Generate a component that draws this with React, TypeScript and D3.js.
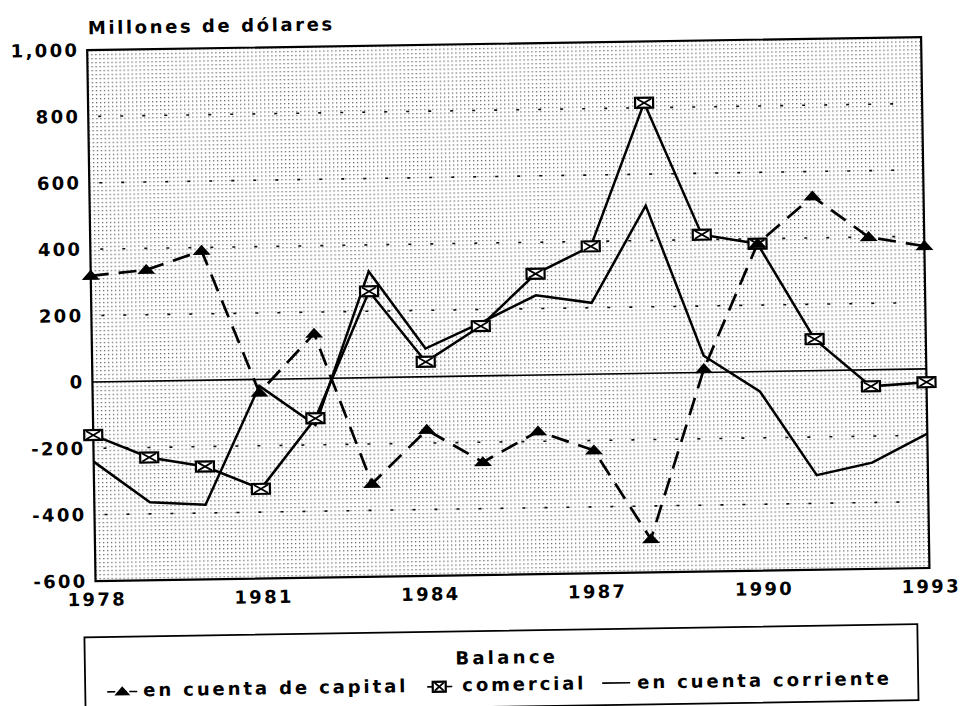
import * as d3 from 'd3';
import React, { useEffect, useRef } from 'react';

// Data (millones de dólares)
const years = [1978, 1979, 1980, 1981, 1982, 1983, 1984, 1985, 1986, 1987, 1988, 1989, 1990, 1991, 1992, 1993];
const capital = [320, 335, 390, -40, 135, -320, -160, -260, -170, -230, -500, 10, 385, 525, 400, 370];
const comercial = [-160, -230, -260, -330, -120, 260, 45, 150, 305, 385, 815, 415, 385, 95, -50, -40];
const corriente = [-240, -365, -375, -20, -140, 320, 85, 160, 240, 215, 505, 50, -60, -315, -280, -195];

const yTicks = [-600, -400, -200, 0, 200, 400, 600, 800, 1000];
const yTickLabels = ['-600', '-400', '-200', '0', '200', '400', '600', '800', '1,000'];
const xTicks = [1978, 1981, 1984, 1987, 1990, 1993];
const gridValues = [-400, -200, 200, 400, 600, 800];

const title = 'Millones de dólares';
const legendTitle = 'Balance';
const seriesNames = ['en cuenta de capital', 'comercial', 'en cuenta corriente'];

const W = 962;
const H = 706;
const FONT = '"DejaVu Sans", sans-serif';

const App = () => {
    const ref = useRef<SVGSVGElement>(null);

    useEffect(() => {
        drawChart();
        // eslint-disable-next-line react-hooks/exhaustive-deps
    }, []);

    function drawChart() {
        const root = d3.select(ref.current);
        root.selectAll('*').remove();

        const plot = { left: 92, right: 926, top: 44, bottom: 575 };

        const x = d3.scaleLinear().domain([1978, 1993]).range([plot.left, plot.right]);
        const y = d3.scaleLinear().domain([-600, 1000]).range([plot.bottom, plot.top]);

        // stipple background pattern
        const defs = root.append('defs');
        const pat = defs.append('pattern')
            .attr('id', 'stipple')
            .attr('width', 4)
            .attr('height', 4)
            .attr('patternUnits', 'userSpaceOnUse');
        pat.append('rect').attr('width', 1.3).attr('height', 1.3).attr('fill', '#666');

        // the scan is a little tilted
        const g = root.append('g').attr('transform', 'rotate(-0.9, 481, 353)');

        g.append('rect')
            .attr('x', plot.left).attr('y', plot.top)
            .attr('width', plot.right - plot.left).attr('height', plot.bottom - plot.top)
            .attr('fill', 'url(#stipple)');

        // dotted gridlines
        g.selectAll('.grid')
            .data(gridValues)
            .enter()
            .append('line')
            .attr('x1', plot.left + 10).attr('x2', plot.right - 10)
            .attr('y1', d => y(d)).attr('y2', d => y(d))
            .attr('stroke', '#111')
            .attr('stroke-width', 1.6)
            .attr('stroke-dasharray', '3,19');

        // zero line
        g.append('line')
            .attr('x1', plot.left).attr('x2', plot.right)
            .attr('y1', y(0)).attr('y2', y(0))
            .attr('stroke', '#000')
            .attr('stroke-width', 1.6);

        // frame
        g.append('rect')
            .attr('x', plot.left).attr('y', plot.top)
            .attr('width', plot.right - plot.left).attr('height', plot.bottom - plot.top)
            .attr('fill', 'none')
            .attr('stroke', '#000')
            .attr('stroke-width', 2.2);

        // y axis labels
        const yAxis = d3.axisLeft(y)
            .tickValues(yTicks)
            .tickSize(0)
            .tickPadding(8)
            .tickFormat((d, i) => yTickLabels[i]);
        const yg = g.append('g').attr('transform', `translate(${plot.left},0)`).call(yAxis);
        yg.select('.domain').remove();
        yg.selectAll('text')
            .attr('font-family', FONT)
            .attr('font-weight', 'bold')
            .attr('font-size', 18)
            .attr('letter-spacing', 2.3)
            .attr('fill', '#000');

        // x axis labels
        const xAxis = d3.axisBottom(x)
            .tickValues(xTicks)
            .tickSize(0)
            .tickPadding(12)
            .tickFormat(d => String(d));
        const xg = g.append('g').attr('transform', `translate(0,${plot.bottom})`).call(xAxis);
        xg.select('.domain').remove();
        xg.selectAll('text')
            .attr('font-family', FONT)
            .attr('font-weight', 'bold')
            .attr('font-size', 18)
            .attr('letter-spacing', 2.3)
            .attr('dx', 1)
            .attr('fill', '#000');

        // title
        g.append('text')
            .attr('x', plot.left + 1)
            .attr('y', 28)
            .attr('font-family', FONT)
            .attr('font-weight', 'bold')
            .attr('font-size', 18)
            .attr('letter-spacing', 2.6)
            .text(title);

        const line = d3.line<number>()
            .x((d, i) => x(years[i]))
            .y(d => y(d));

        // en cuenta corriente
        g.append('path')
            .attr('d', line(corriente))
            .attr('fill', 'none')
            .attr('stroke', '#000')
            .attr('stroke-width', 2.5)
            .attr('stroke-linejoin', 'miter');

        // comercial
        g.append('path')
            .attr('d', line(comercial))
            .attr('fill', 'none')
            .attr('stroke', '#000')
            .attr('stroke-width', 2.5);

        // en cuenta de capital
        g.append('path')
            .attr('d', line(capital))
            .attr('fill', 'none')
            .attr('stroke', '#000')
            .attr('stroke-width', 2.7)
            .attr('stroke-dasharray', '18,10');

        const drawSquare = (sel: any, w: number, h: number) => {
            sel.append('rect')
                .attr('x', -w / 2).attr('y', -h / 2)
                .attr('width', w).attr('height', h)
                .attr('fill', '#fff')
                .attr('stroke', '#000')
                .attr('stroke-width', 2.2);
            sel.append('path')
                .attr('d', `M${-w / 2 + 2},${-h / 2 + 1}L${w / 2 - 2},${h / 2 - 1}M${w / 2 - 2},${-h / 2 + 1}L${-w / 2 + 2},${h / 2 - 1}`)
                .attr('stroke', '#000')
                .attr('stroke-width', 1.8);
        };

        const drawTriangle = (sel: any, w: number, h: number) => {
            sel.append('path')
                .attr('d', `M0,${-h * 0.6}L${w / 2},${h * 0.4}L${-w / 2},${h * 0.4}Z`)
                .attr('fill', '#000');
        };

        // markers
        g.selectAll('.sq')
            .data(comercial)
            .enter()
            .append('g')
            .attr('transform', (d, i) => `translate(${x(years[i])},${y(d)})`)
            .each(function () { drawSquare(d3.select(this), 18, 10); });

        g.selectAll('.tri')
            .data(capital)
            .enter()
            .append('g')
            .attr('transform', (d, i) => `translate(${x(years[i])},${y(d)})`)
            .each(function () { drawTriangle(d3.select(this), 18, 10); });

        // legend
        const lg = g.append('g');
        lg.append('rect')
            .attr('x', 80).attr('y', 631)
            .attr('width', 833).attr('height', 76)
            .attr('fill', '#fff')
            .attr('stroke', '#000')
            .attr('stroke-width', 1.8);

        lg.append('text')
            .attr('x', 502).attr('y', 664)
            .attr('text-anchor', 'middle')
            .attr('font-family', FONT)
            .attr('font-weight', 'bold')
            .attr('font-size', 18)
            .attr('letter-spacing', 3.3)
            .text(legendTitle);

        const rowY = 686;
        const textStyle = (t: any) => t
            .attr('font-family', FONT)
            .attr('font-weight', 'bold')
            .attr('font-size', 18)
            .attr('letter-spacing', 2.9);

        // capital entry
        lg.append('line')
            .attr('x1', 102).attr('x2', 133)
            .attr('y1', rowY).attr('y2', rowY)
            .attr('stroke', '#000').attr('stroke-width', 1.6)
            .attr('stroke-dasharray', '8,3');
        drawTriangle(lg.append('g').attr('transform', `translate(117,${rowY})`), 16, 9);
        textStyle(lg.append('text').attr('x', 138).attr('y', rowY + 5).text(seriesNames[0]));

        // comercial entry
        lg.append('line')
            .attr('x1', 422).attr('x2', 447)
            .attr('y1', rowY).attr('y2', rowY)
            .attr('stroke', '#000').attr('stroke-width', 1.6);
        drawSquare(lg.append('g').attr('transform', `translate(434,${rowY})`), 13, 10);
        textStyle(lg.append('text').attr('x', 457).attr('y', rowY + 5).text(seriesNames[1]));

        // corriente entry
        lg.append('line')
            .attr('x1', 597).attr('x2', 625)
            .attr('y1', rowY - 1).attr('y2', rowY - 1)
            .attr('stroke', '#000').attr('stroke-width', 1.6);
        textStyle(lg.append('text').attr('x', 632).attr('y', rowY + 5).text(seriesNames[2]));
    }

    return (
        <svg
            ref={ref}
            width={W}
            height={H}
            style={{ position: 'absolute', left: 0, top: 0, background: '#fff' }}
        />
    );
};

export default App;
